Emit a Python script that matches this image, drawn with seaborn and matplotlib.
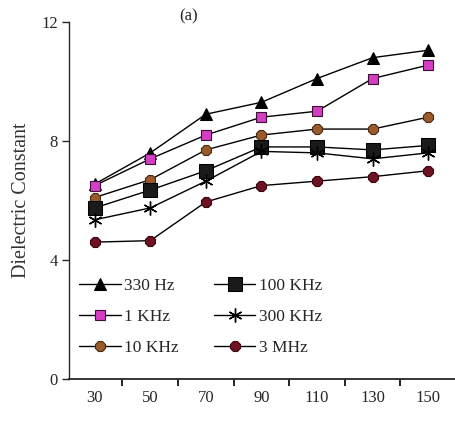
import matplotlib
matplotlib.use("Agg")
import matplotlib.pyplot as plt
import numpy as np
import pandas as pd
import seaborn as sns

temperature = [30, 50, 70, 90, 110, 130, 150]
freq_labels = ["330 Hz", "1 KHz", "10 KHz", "100 KHz", "300 KHz", "3 MHz"]
eps_330hz = [6.55, 7.6, 8.9, 9.3, 10.1, 10.8, 11.05]
eps_1khz = [6.5, 7.4, 8.2, 8.8, 9.0, 10.1, 10.55]
eps_10khz = [6.1, 6.7, 7.7, 8.2, 8.4, 8.4, 8.8]
eps_100khz = [5.75, 6.35, 7.0, 7.8, 7.8, 7.7, 7.85]
eps_300khz = [5.35, 5.75, 6.65, 7.65, 7.6, 7.4, 7.6]
eps_3mhz = [4.6, 4.65, 5.95, 6.5, 6.65, 6.8, 7.0]

series = [eps_330hz, eps_1khz, eps_10khz, eps_100khz, eps_300khz, eps_3mhz]
styles = [
    dict(marker="^", markersize=9, markerfacecolor="black", markeredgecolor="black"),
    dict(marker="s", markersize=7, markerfacecolor="#d43ec4", markeredgecolor="#3a1030", markeredgewidth=0.8),
    dict(marker="8", markersize=8, markerfacecolor="#9b5a2c", markeredgecolor="#4a2a10", markeredgewidth=0.8),
    dict(marker="s", markersize=10, markerfacecolor="#1a1a1a", markeredgecolor="black"),
    dict(marker=(6, 2, 0), markersize=10, markeredgecolor="black", markeredgewidth=1.0),
    dict(marker="8", markersize=8, markerfacecolor="#6e1222", markeredgecolor="#3a0810", markeredgewidth=0.8),
]

sns.set_style("ticks")
plt.rcParams["font.family"] = ["Liberation Serif", "DejaVu Serif"]

fig = plt.figure(figsize=(4.56, 4.21), dpi=100)
ax = fig.add_axes([0.151, 0.0998, 0.849, 0.848])

for label, values, st in zip(freq_labels, series, styles):
    df = pd.DataFrame({"T": temperature, "eps": values})
    sns.lineplot(data=df, x="T", y="eps", color="black", linewidth=1.0,
                 label=label, ax=ax, **st)

ax.set_xlim(20.7, 160)
ax.set_ylim(0, 12)
ax.set_yticks([0, 4, 8, 12])
ax.set_xticks(temperature)
ax.set_xticks([40, 60, 80, 100, 120, 140], minor=True)
ax.tick_params(axis="x", which="major", length=0, labelsize=12, pad=8)
ax.tick_params(axis="x", which="minor", length=5, width=1.2, direction="out", color="black")
ax.tick_params(axis="y", length=5, width=1.0, labelsize=12, pad=3)
ax.set_xlabel("")
ax.set_ylabel("Dielectric Constant", fontsize=14.5, color="#333333", labelpad=7)
for side in ["top", "right"]:
    ax.spines[side].set_visible(False)
ax.spines["left"].set_linewidth(1.0)
ax.spines["bottom"].set_linewidth(1.3)

ax.text(0.31, 1.015, "(a)", transform=ax.transAxes, fontsize=12, ha="center", va="center")

ax.legend(loc="upper left", bbox_to_anchor=(0.0, 0.313), ncol=2, frameon=False,
          fontsize=12.5, handlelength=2.4, handletextpad=0.2, columnspacing=2.0,
          labelspacing=0.85, borderaxespad=0.2)

fig.savefig("out.png", dpi=100)
